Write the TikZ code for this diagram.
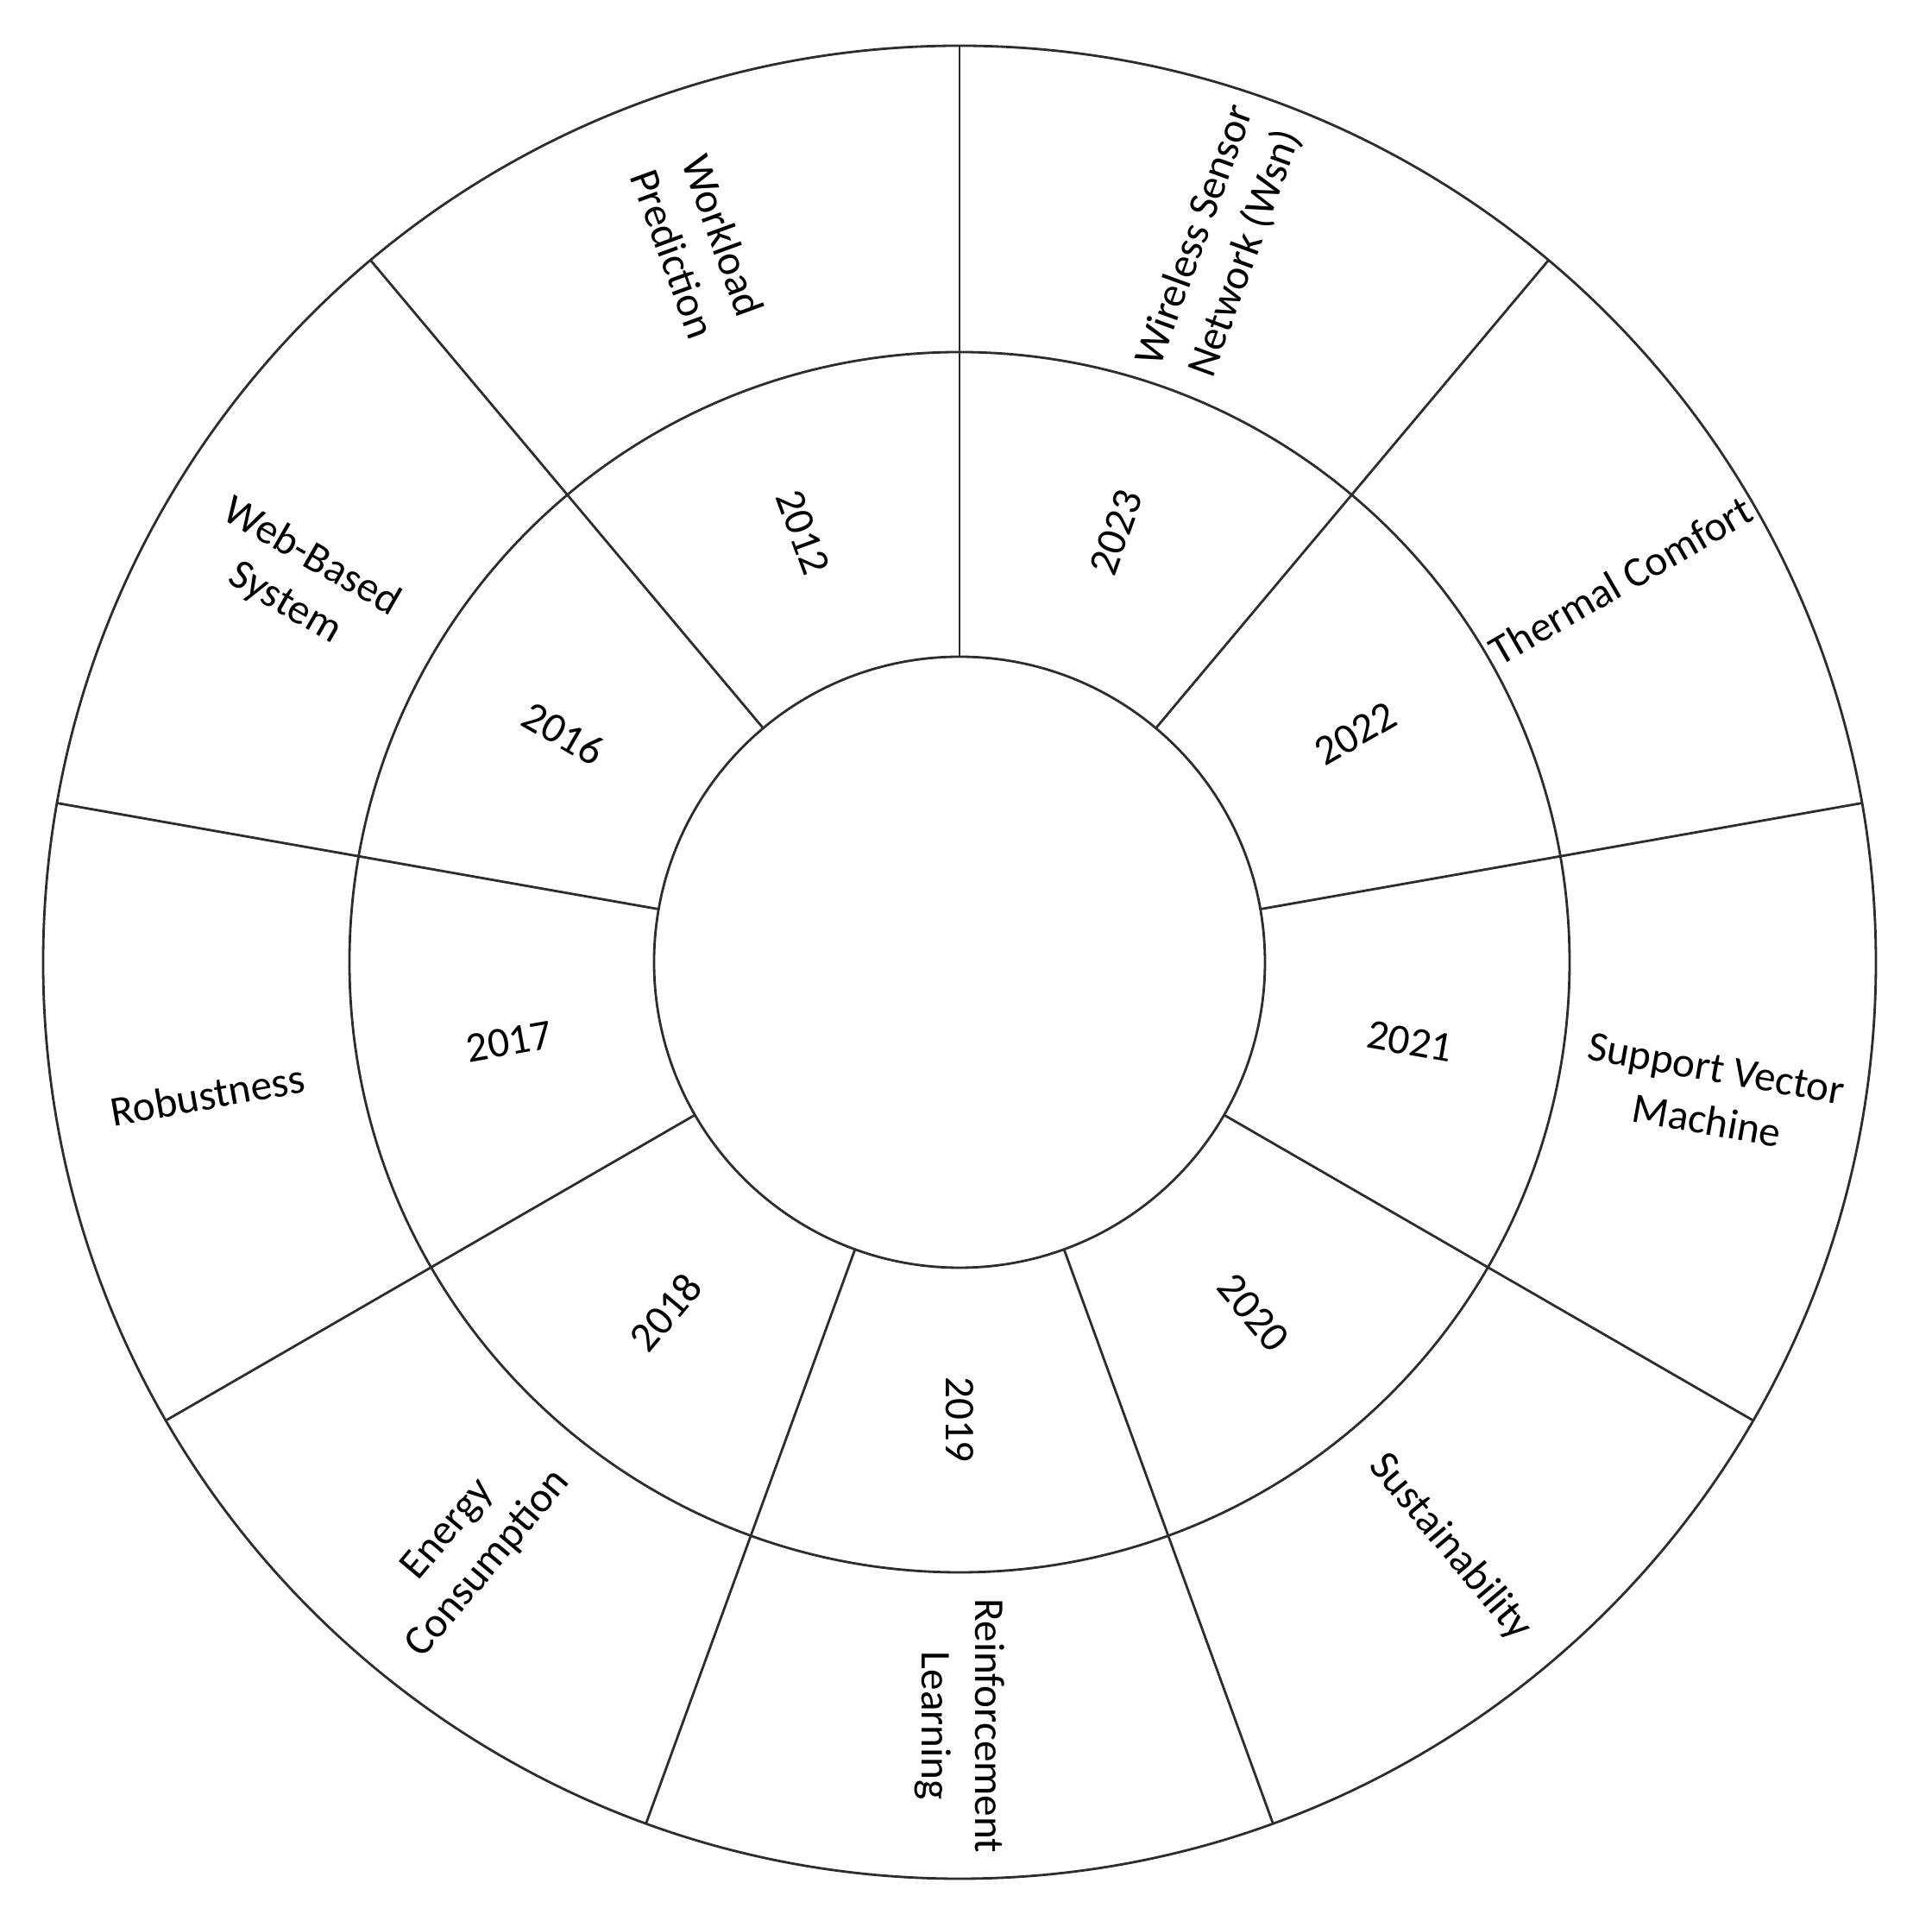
\documentclass[tikz,border=0pt]{standalone}
\usepackage{fontspec}
\setmainfont{Carlito}
\usetikzlibrary{positioning}
\definecolor{ringgray}{RGB}{45,45,45}
\tikzset{
  ring/.style={draw=ringgray, line width=0.8pt},
  spoke/.style={draw=ringgray, line width=0.8pt},
  yearlabel/.style={font=\fontsize{14}{17}\selectfont, inner sep=0pt},
  topiclabel/.style={font=\fontsize{14}{17.5}\selectfont, align=center,
    inner sep=0pt}
}

\begin{document}
\begin{tikzpicture}[x=1cm,y=1cm]
  \useasboundingbox (-11.12,-11.11) rectangle (11.27,11.15);

  % Rings
  \draw[ring] (0,0) circle (10.62);
  \draw[ring] (0,0) circle (7.07);
  \draw[ring] (0,0) circle (3.54);

  % Spokes between sectors
  \foreach \a in {10,50,...,330}
    \draw[spoke] (\a:3.54) -- (\a:10.62);

  % Years (middle ring) and topics (outer ring)
  \foreach \n/\a/\r/\yr/\topic in {
      1/110/290/2012/{Workload\\Prediction},
      2/150/-30/2016/{Web-Based\\System},
      3/190/10/2017/{Robustness},
      4/230/50/2018/{Energy\\Consumption},
      5/270/-90/2019/{Reinforcement\\Learning},
      6/310/-50/2020/{Sustainability},
      7/350/-10/2021/{Support Vector\\Machine},
      8/30/30/2022/{Thermal Comfort},
      9/70/70/2023/{Wireless Sensor\\Network (Wsn)}}{
    \node[yearlabel,rotate=\r] (y\n) at (\a:5.3) {\yr};
    \node[topiclabel,rotate=\r] (t\n) at (\a:8.85) {\topic};
  }
\end{tikzpicture}
\end{document}
